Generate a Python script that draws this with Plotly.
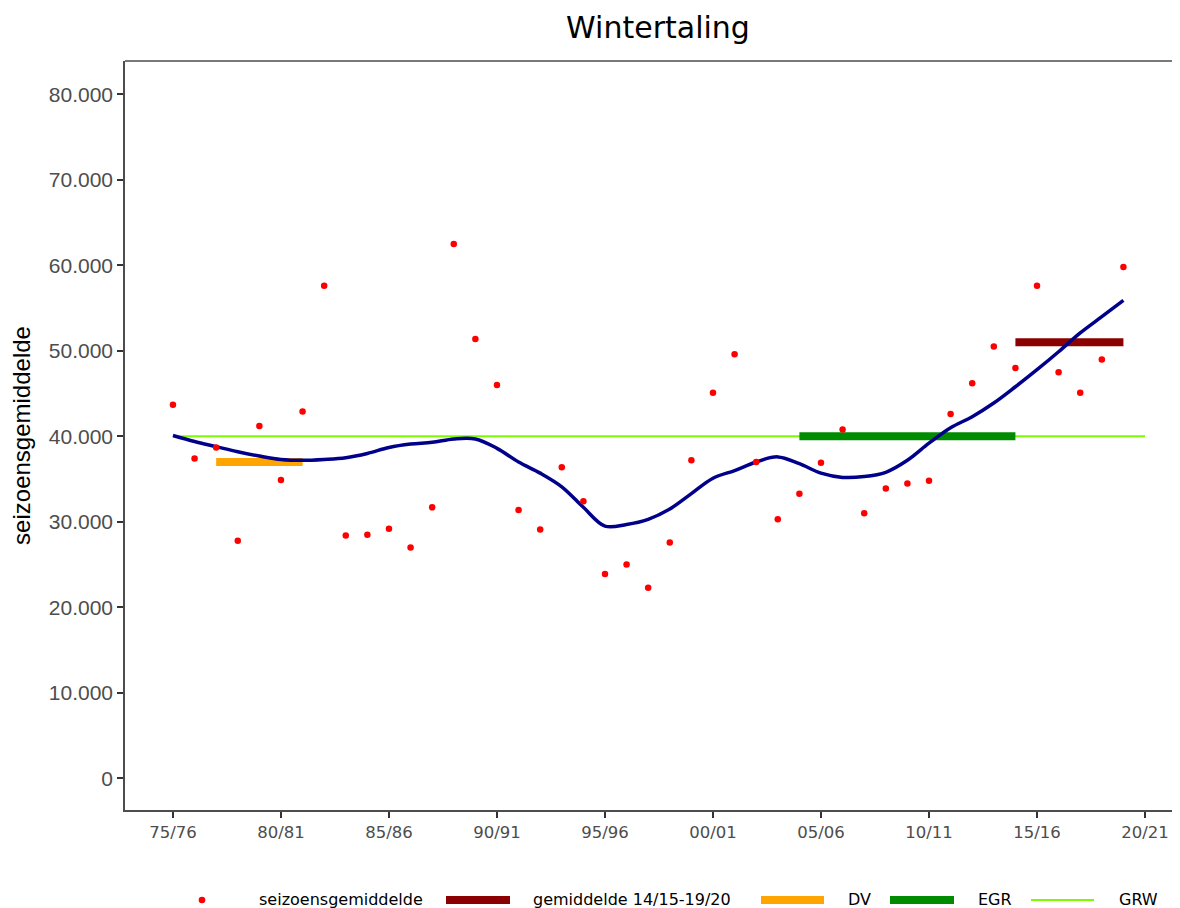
import plotly.graph_objects as go

seasons = ["75/76","76/77","77/78","78/79","79/80","80/81","81/82","82/83","83/84","84/85",
           "85/86","86/87","87/88","88/89","89/90","90/91","91/92","92/93","93/94","94/95",
           "95/96","96/97","97/98","98/99","99/00","00/01","01/02","02/03","03/04","04/05",
           "05/06","06/07","07/08","08/09","09/10","10/11","11/12","12/13","13/14","14/15",
           "15/16","16/17","17/18","18/19","19/20","20/21"]
data_seasons = seasons[:45]

seizoensgemiddelde = [43700, 37400, 38700, 27800, 41200, 34900, 42900, 57600, 28400, 28500,
                      29200, 27000, 31700, 62500, 51400, 46000, 31400, 29100, 36400, 32400,
                      23900, 25000, 22300, 27600, 37200, 45100, 49600, 37000, 30300, 33300,
                      36900, 40800, 31000, 33900, 34500, 34800, 42600, 46200, 50500, 48000,
                      57600, 47500, 45100, 49000, 59800]

trend = [40100, 39400, 38800, 38200, 37700, 37300, 37200, 37300, 37500, 38000,
         38700, 39100, 39300, 39700, 39700, 38600, 37000, 35700, 34100, 31700,
         29500, 29700, 30300, 31500, 33300, 35100, 36000, 37000, 37600, 36800,
         35700, 35200, 35300, 35800, 37200, 39200, 41000, 42300, 43900, 45800,
         47800, 49900, 52100, 54000, 55900]

gem_x = ["14/15", "19/20"]; gem_y = [51000, 51000]
dv_x = ["77/78", "81/82"]; dv_y = [37000, 37000]
egr_x = ["04/05", "14/15"]; egr_y = [40000, 40000]
grw_x = ["75/76", "20/21"]; grw_y = [40000, 40000]

x_ticks = ["75/76","80/81","85/86","90/91","95/96","00/01","05/06","10/11","15/16","20/21"]
y_ticks = [0, 10000, 20000, 30000, 40000, 50000, 60000, 70000, 80000]
y_ticktext = ["0", "10.000", "20.000", "30.000", "40.000", "50.000", "60.000", "70.000", "80.000"]

legend_names = ["seizoensgemiddelde", "gemiddelde 14/15-19/20", "DV", "EGR", "GRW"]
legend_colors = ["#FF0000", "#8B0000", "#FFA500", "#008B00", "#7CFC00"]

C_GRW, C_DV, C_EGR, C_GEM = "#7CFC00", "#FFA500", "#008B00", "#8B0000"

fig = go.Figure()
fig.add_trace(go.Scatter(x=grw_x, y=grw_y, mode="lines", name="GRW",
                         line=dict(color=C_GRW, width=2), showlegend=False))
fig.add_trace(go.Scatter(x=dv_x, y=dv_y, mode="lines", name="DV",
                         line=dict(color=C_DV, width=8), showlegend=False))
fig.add_trace(go.Scatter(x=egr_x, y=egr_y, mode="lines", name="EGR",
                         line=dict(color=C_EGR, width=8), showlegend=False))
fig.add_trace(go.Scatter(x=gem_x, y=gem_y, mode="lines", name="gemiddelde 14/15-19/20",
                         line=dict(color=C_GEM, width=8), showlegend=False))
fig.add_trace(go.Scatter(x=data_seasons, y=trend, mode="lines", name="trend",
                         line=dict(color="#00008B", width=3.5, shape="spline"),
                         showlegend=False))
fig.add_trace(go.Scatter(x=data_seasons, y=seizoensgemiddelde, mode="markers",
                         name="seizoensgemiddelde",
                         marker=dict(color="#FF0000", size=6.5), showlegend=False))

# page-pixel helpers (plot area spans x 125..1188, y 61..810 on the page)
def px(x):
    return (x - 125) / 1063.0

def py(y):
    return (810 - y) / 749.0

LEG_Y = 900
shapes = [dict(type="line", xref="paper", yref="paper", x0=0, x1=1, y0=1, y1=1,
               line=dict(color="#4d4d4d", width=1.5))]
annotations = []

# legend: symbol positions and text left edges (page px)
sym_spans = [(202, 202), (446, 510), (761, 824), (890, 954), (1031, 1094)]
text_lefts = [257, 531, 846, 976, 1117]
sym_widths = [0, 8, 8, 8, 2]
for name, col, (a, b), tl, w in zip(legend_names, legend_colors, sym_spans, text_lefts, sym_widths):
    if a == b:
        r = 3.3
        shapes.append(dict(type="circle", xref="paper", yref="paper",
                           x0=px(a - r), x1=px(a + r), y0=py(LEG_Y + r), y1=py(LEG_Y - r),
                           fillcolor=col, line=dict(width=0)))
    else:
        shapes.append(dict(type="line", xref="paper", yref="paper",
                           x0=px(a), x1=px(b), y0=py(LEG_Y), y1=py(LEG_Y),
                           line=dict(color=col, width=w)))
    annotations.append(dict(text=name, xref="paper", yref="paper", x=px(tl), y=py(LEG_Y - 1),
                            xanchor="left", yanchor="middle", showarrow=False,
                            font=dict(family="DejaVu Sans", size=16, color="black")))

fig.update_layout(
    width=1180, height=908,
    margin=dict(l=117, r=0, t=53, b=106),
    paper_bgcolor="white", plot_bgcolor="white",
    title=dict(text="Wintertaling", x=650 / 1180, xanchor="center",
               y=1 - 19 / 908, yanchor="middle",
               font=dict(family="DejaVu Sans", size=30, color="black")),
    showlegend=False,
    shapes=shapes,
    annotations=annotations,
)

fig.update_xaxes(
    type="category", categoryorder="array", categoryarray=seasons,
    range=[-2.22, 46.99],
    tickmode="array", tickvals=x_ticks, ticktext=x_ticks,
    ticks="outside", ticklen=6, tickwidth=1.5, tickcolor="#333333",
    showline=True, linecolor="#4d4d4d", linewidth=1.5,
    showgrid=False, zeroline=False,
    tickfont=dict(family="DejaVu Sans", size=16.5, color="#4d4d4d"),
)
fig.update_yaxes(
    range=[-3700, 83900],
    tickmode="array", tickvals=y_ticks, ticktext=y_ticktext,
    ticks="outside", ticklen=6, tickwidth=1.5, tickcolor="#333333",
    showline=True, linecolor="#4d4d4d", linewidth=1.5,
    showgrid=False, zeroline=False,
    tickfont=dict(family="Liberation Sans, Arial", size=21, color="#4d4d4d"),
    title=dict(text="seizoensgemiddelde", standoff=14,
               font=dict(family="Liberation Sans, Arial", size=24, color="black")),
)

fig.write_html("out.html",
               post_script="document.documentElement.style.overflow='hidden';"
                           "document.body.style.overflow='hidden';")
